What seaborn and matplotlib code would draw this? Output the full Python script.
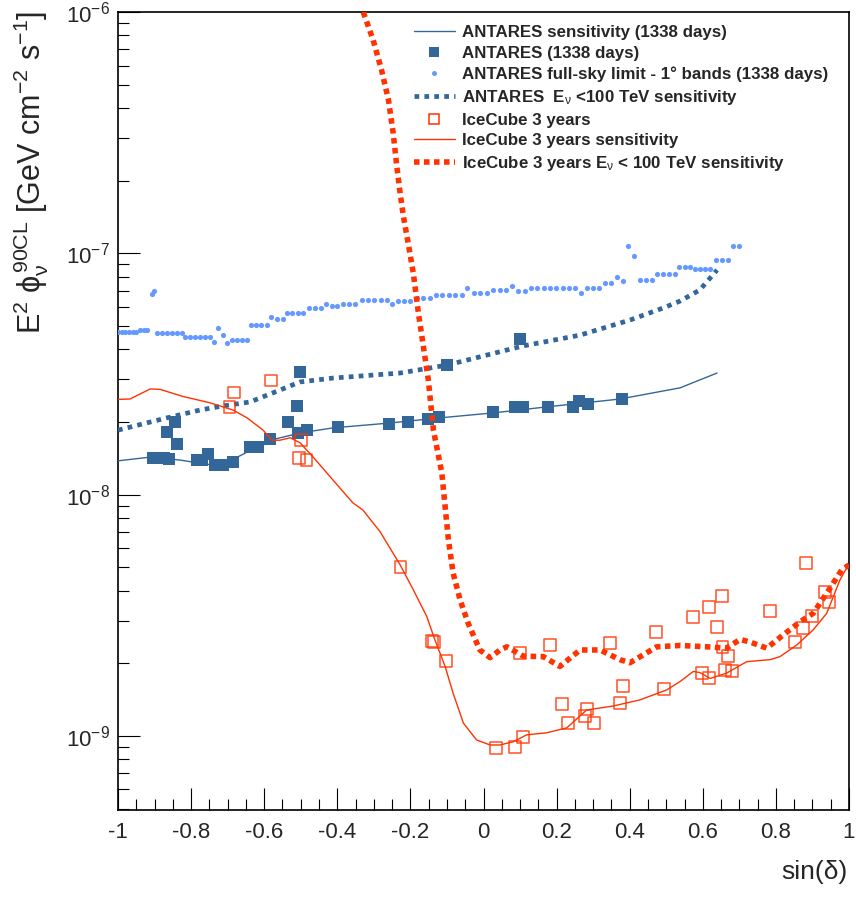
import matplotlib
matplotlib.use("Agg")
import matplotlib.pyplot as plt
import seaborn as sns
import numpy as np
import pandas as pd
from matplotlib.lines import Line2D
from matplotlib.ticker import MultipleLocator, LogLocator, LogFormatterMathtext, NullFormatter, FixedLocator

# ---------------- data ----------------
ant_sens_x = [-1.0, -0.912, -0.830, -0.748, -0.685, -0.584, -0.502, -0.412, -0.256, -0.119, 0.026, 0.174, 0.374, 0.538, 0.639]
ant_sens_y = [1.38e-8, 1.43e-8, 1.39e-8, 1.33e-8, 1.40e-8, 1.68e-8, 1.80e-8, 1.89e-8, 1.98e-8, 2.08e-8, 2.18e-8, 2.31e-8, 2.49e-8, 2.77e-8, 3.19e-8]

ant_pts_x = [-0.905, -0.890, -0.875, -0.860, -0.867, -0.844, -0.839, -0.785, -0.770, -0.753, -0.735, -0.712, -0.685,
             -0.639, -0.617, -0.584, -0.535, -0.510, -0.502, -0.508, -0.483, -0.398, -0.259, -0.207, -0.152, -0.122,
             -0.100, 0.026, 0.086, 0.108, 0.100, 0.176, 0.245, 0.261, 0.286, 0.379]
ant_pts_y = [1.42e-8, 1.42e-8, 1.42e-8, 1.41e-8, 1.82e-8, 2.00e-8, 1.62e-8, 1.39e-8, 1.39e-8, 1.47e-8, 1.33e-8, 1.33e-8, 1.37e-8,
             1.57e-8, 1.57e-8, 1.70e-8, 2.00e-8, 2.33e-8, 3.22e-8, 1.80e-8, 1.85e-8, 1.91e-8, 1.96e-8, 2.00e-8, 2.06e-8, 2.10e-8,
             3.44e-8, 2.20e-8, 2.31e-8, 2.31e-8, 4.41e-8, 2.31e-8, 2.31e-8, 2.44e-8, 2.37e-8, 2.49e-8]

fs_x = [-1.00, -0.99, -0.98, -0.97, -0.96, -0.95, -0.94, -0.93, -0.92, -0.907, -0.902, -0.893, -0.880, -0.866, -0.852,
        -0.839, -0.825, -0.817, -0.803, -0.789, -0.776, -0.762, -0.748, -0.737, -0.726, -0.712, -0.701, -0.689, -0.675,
        -0.662, -0.648, -0.637, -0.622, -0.608, -0.593, -0.582, -0.566, -0.549, -0.538, -0.523, -0.508, -0.493, -0.477,
        -0.461, -0.445, -0.431, -0.415, -0.400, -0.384, -0.367, -0.352, -0.333, -0.316, -0.299, -0.281, -0.265, -0.251,
        -0.235, -0.218, -0.201, -0.183, -0.165, -0.146, -0.130, -0.113, -0.095, -0.078, -0.060, -0.044, -0.026, -0.009,
        0.009, 0.027, 0.044, 0.062, 0.078, 0.095, 0.114, 0.130, 0.147, 0.165, 0.182, 0.199, 0.217, 0.233, 0.250, 0.267,
        0.284, 0.300, 0.316, 0.333, 0.349, 0.366, 0.383, 0.396, 0.413, 0.429, 0.445, 0.462, 0.476, 0.492, 0.508, 0.524,
        0.536, 0.550, 0.565, 0.580, 0.593, 0.607, 0.620, 0.636, 0.653, 0.670, 0.683, 0.699]
fs_y = [4.72e-8, 4.72e-8, 4.72e-8, 4.72e-8, 4.72e-8, 4.72e-8, 4.80e-8, 4.80e-8, 4.80e-8, 6.78e-8, 6.98e-8, 4.66e-8, 4.66e-8, 4.66e-8, 4.66e-8,
        4.66e-8, 4.66e-8, 4.52e-8, 4.52e-8, 4.52e-8, 4.52e-8, 4.52e-8, 4.52e-8, 4.30e-8, 4.88e-8, 4.57e-8, 4.24e-8, 4.37e-8, 4.37e-8,
        4.37e-8, 4.37e-8, 5.06e-8, 5.06e-8, 5.06e-8, 5.06e-8, 5.46e-8, 5.35e-8, 5.35e-8, 5.65e-8, 5.65e-8, 5.65e-8, 5.65e-8, 5.93e-8,
        5.93e-8, 5.93e-8, 6.17e-8, 6.05e-8, 6.05e-8, 6.17e-8, 6.17e-8, 6.17e-8, 6.39e-8, 6.39e-8, 6.39e-8, 6.39e-8, 6.39e-8, 6.17e-8,
        6.34e-8, 6.34e-8, 6.34e-8, 6.51e-8, 6.51e-8, 6.51e-8, 6.72e-8, 6.72e-8, 6.72e-8, 6.72e-8, 6.72e-8, 7.18e-8, 6.85e-8, 6.85e-8,
        6.85e-8, 7.05e-8, 7.05e-8, 7.05e-8, 7.33e-8, 6.97e-8, 6.97e-8, 7.18e-8, 7.18e-8, 7.18e-8, 7.18e-8, 7.18e-8, 7.18e-8, 7.18e-8, 7.18e-8, 6.87e-8,
        7.18e-8, 7.18e-8, 7.18e-8, 7.53e-8, 7.53e-8, 7.98e-8, 7.70e-8, 1.07e-7, 9.70e-8, 7.74e-8, 7.74e-8, 7.74e-8, 8.21e-8, 8.21e-8, 8.21e-8, 8.21e-8,
        8.75e-8, 8.75e-8, 8.75e-8, 8.58e-8, 8.58e-8, 8.58e-8, 8.58e-8, 9.38e-8, 9.38e-8, 9.38e-8, 1.07e-7, 1.07e-7]

ant_low_x = [-1.0, -0.866, -0.776, -0.713, -0.639, -0.576, -0.502, -0.412, -0.228, -0.100, 0.108, 0.264, 0.401, 0.491, 0.538, 0.592, 0.639]
ant_low_y = [1.85e-8, 2.08e-8, 2.24e-8, 2.33e-8, 2.42e-8, 2.64e-8, 2.93e-8, 3.04e-8, 3.19e-8, 3.44e-8, 4.13e-8, 4.58e-8, 5.29e-8, 5.93e-8, 6.34e-8, 7.05e-8, 8.53e-8]

ic_pts_x = [-0.682, -0.582, -0.695, -0.499, -0.505, -0.484, -0.227, -0.140, -0.135, -0.103, 0.100, 0.182, 0.034, 0.086, 0.107,
            0.214, 0.232, 0.278, 0.284, 0.303, 0.346, 0.373, 0.381, 0.472, 0.494, 0.574, 0.617, 0.652, 0.638, 0.597, 0.617,
            0.654, 0.670, 0.661, 0.679, 0.784, 0.852, 0.875, 0.898, 0.934, 0.945, 0.882]
ic_pts_y = [2.65e-8, 2.97e-8, 2.31e-8, 1.68e-8, 1.42e-8, 1.39e-8, 5.02e-9, 2.47e-9, 2.45e-9, 2.04e-9, 2.21e-9, 2.38e-9, 8.91e-10, 9.02e-10, 9.86e-10,
            1.36e-9, 1.13e-9, 1.21e-9, 1.29e-9, 1.13e-9, 2.42e-9, 1.37e-9, 1.61e-9, 2.70e-9, 1.56e-9, 3.12e-9, 3.43e-9, 3.80e-9, 2.82e-9, 1.82e-9, 1.74e-9,
            2.33e-9, 2.14e-9, 1.88e-9, 1.86e-9, 3.30e-9, 2.45e-9, 2.79e-9, 3.15e-9, 3.96e-9, 3.58e-9, 5.19e-9]

ic_sens_x = [-1.0, -0.967, -0.912, -0.885, -0.822, -0.748, -0.685, -0.647, -0.603, -0.579, -0.557, -0.529, -0.502, -0.466,
             -0.412, -0.357, -0.330, -0.283, -0.228, -0.192, -0.155, -0.133, -0.105, -0.083, -0.055, -0.019, 0.018, 0.045,
             0.082, 0.118, 0.173, 0.228, 0.282, 0.355, 0.428, 0.501, 0.538, 0.574, 0.592, 0.620, 0.665, 0.720, 0.784, 0.811,
             0.857, 0.902, 0.939, 0.975, 0.995]
ic_sens_y = [2.48e-8, 2.49e-8, 2.74e-8, 2.73e-8, 2.55e-8, 2.40e-8, 2.24e-8, 2.08e-8, 1.85e-8, 1.68e-8, 1.68e-8, 1.72e-8, 1.64e-8, 1.43e-8,
             1.15e-8, 9.23e-9, 8.63e-9, 7.02e-9, 5.11e-9, 4.03e-9, 3.12e-9, 2.50e-9, 1.94e-9, 1.50e-9, 1.13e-9, 9.62e-10, 9.17e-10, 9.17e-10,
             9.46e-10, 1.01e-9, 1.03e-9, 1.08e-9, 1.28e-9, 1.33e-9, 1.41e-9, 1.55e-9, 1.68e-9, 1.85e-9, 1.83e-9, 1.73e-9, 1.82e-9, 2.03e-9, 2.07e-9, 2.13e-9,
             2.38e-9, 2.75e-9, 3.22e-9, 4.42e-9, 5.01e-9]

ic_low_x = [-0.329, -0.302, -0.279, -0.260, -0.247, -0.237, -0.228, -0.219, -0.206, -0.192, -0.178, -0.151, -0.137, -0.114,
            -0.105, -0.096, -0.083, -0.064, -0.042, -0.010, 0.018, 0.045, 0.064, 0.109, 0.164, 0.209, 0.264, 0.319, 0.373,
            0.401, 0.474, 0.538, 0.611, 0.665, 0.702, 0.729, 0.775, 0.820, 0.866, 0.902, 0.939, 0.980, 1.0]
ic_low_y = [1.0e-6, 7.66e-7, 5.75e-7, 4.32e-7, 3.14e-7, 2.28e-7, 1.77e-7, 1.42e-7, 1.10e-7, 8.26e-8, 5.64e-8, 2.99e-8, 1.85e-8, 1.23e-8,
            8.91e-9, 6.49e-9, 4.72e-9, 3.66e-9, 2.93e-9, 2.27e-9, 2.11e-9, 2.27e-9, 2.34e-9, 2.14e-9, 2.13e-9, 1.94e-9, 2.27e-9, 2.27e-9, 2.07e-9,
            2.01e-9, 2.34e-9, 2.37e-9, 2.34e-9, 2.31e-9, 2.51e-9, 2.45e-9, 2.31e-9, 2.62e-9, 2.97e-9, 3.22e-9, 3.90e-9, 4.87e-9, 5.11e-9]

x_ticks = [-1, -0.8, -0.6, -0.4, -0.2, 0, 0.2, 0.4, 0.6, 0.8, 1]
x_ticklabels = ["-1", "-0.8", "-0.6", "-0.4", "-0.2", "0", "0.2", "0.4", "0.6", "0.8", "1"]
y_ticks = [1e-9, 1e-8, 1e-7, 1e-6]

legend_labels = ["ANTARES sensitivity (1338 days)",
                 "ANTARES (1338 days)",
                 "ANTARES full-sky limit - 1\u00b0 bands (1338 days)",
                 "ANTARES  E$_{\\nu}$ <100 TeV sensitivity",
                 "IceCube 3 years",
                 "IceCube 3 years sensitivity",
                 "IceCube 3 years E$_{\\nu}$ < 100 TeV sensitivity"]

BLUE = "#336699"
LIGHT = "#6699ff"
RED = "#ff3300"

# ---------------- style ----------------
sns.set_style("ticks")
plt.rcParams["font.family"] = ["Liberation Sans", "DejaVu Sans"]
plt.rcParams["mathtext.fontset"] = "custom"
plt.rcParams["mathtext.rm"] = "Liberation Sans"
plt.rcParams["mathtext.it"] = "Liberation Sans"
plt.rcParams["mathtext.sf"] = "Liberation Sans"
plt.rcParams["mathtext.bf"] = "Liberation Sans:bold"
plt.rcParams["axes.unicode_minus"] = False

W, H = 856, 898
fig = plt.figure(figsize=(W / 100, H / 100), dpi=100)
fig.patch.set_facecolor("white")
L, R, T, B = 118, 849, 12, 810
ax = fig.add_axes([L / W, 1 - B / H, (R - L) / W, (B - T) / H])
ax.set_facecolor("white")

# ---------------- plotting ----------------
sns.lineplot(x=ant_sens_x, y=ant_sens_y, ax=ax, color=BLUE, lw=1.0, sort=False, estimator=None, zorder=3)
sns.scatterplot(x=ant_pts_x, y=ant_pts_y, ax=ax, marker="s", s=64, color=BLUE, linewidth=0, zorder=4)
sns.scatterplot(x=fs_x, y=fs_y, ax=ax, marker="o", s=14, color=LIGHT, linewidth=0, zorder=4)
sns.lineplot(x=ant_low_x, y=ant_low_y, ax=ax, color=BLUE, lw=3.4, linestyle=(0, (1.0, 1.1)),
             sort=False, estimator=None, zorder=5)
sns.scatterplot(x=ic_pts_x, y=ic_pts_y, ax=ax, marker="s", s=72, color=RED, facecolor="none",
                edgecolor=RED, linewidth=1.1, alpha=0.85, zorder=5)
sns.lineplot(x=ic_sens_x, y=ic_sens_y, ax=ax, color=RED, lw=1.0, sort=False, estimator=None, zorder=6)
sns.lineplot(x=ic_low_x, y=ic_low_y, ax=ax, color=RED, lw=4.0, linestyle=(0, (1.0, 0.8)),
             sort=False, estimator=None, zorder=7)

# ---------------- axes ----------------
ax.set_yscale("log")
ax.set_xlim(-1, 1)
ax.set_ylim(4.93e-10, 1e-6)

ax.xaxis.set_minor_locator(MultipleLocator(0.05))
ax.set_xticks(x_ticks)
ax.set_xticklabels(x_ticklabels)
ax.yaxis.set_major_locator(FixedLocator(y_ticks))
ax.yaxis.set_minor_locator(LogLocator(base=10, subs=np.arange(2, 10), numticks=20))
ax.yaxis.set_major_formatter(LogFormatterMathtext())
ax.yaxis.set_minor_formatter(NullFormatter())

ax.tick_params(axis="both", which="major", direction="in", length=16, width=0.8, color="black",
               labelsize=16, top=False, right=False)
ax.tick_params(axis="both", which="minor", direction="in", length=8, width=0.8, color="black",
               top=False, right=False)
ax.tick_params(axis="x", which="major", pad=9)
ax.tick_params(axis="y", which="major", pad=6)
for sp in ax.spines.values():
    sp.set_visible(True)
    sp.set_linewidth(1.2)
    sp.set_color("black")

ax.set_ylabel(r"E$^{2}$ $\phi_{\nu}^{90CL}$ [GeV cm$^{-2}$ s$^{-1}$]", fontsize=22, loc="top")
ax.yaxis.set_label_coords((51 - L) / (R - L), 1 + 1 / (B - T))
ax.set_xlabel("sin(\u03b4)", fontsize=19, loc="right")
ax.xaxis.set_label_coords(1 - 1 / (R - L), -(860 - B) / (B - T))

# ---------------- legend ----------------
handles = [
    Line2D([], [], color=BLUE, lw=1.0),
    Line2D([], [], marker="s", ls="none", color=BLUE, ms=7.5, mew=0),
    Line2D([], [], marker="o", ls="none", color=LIGHT, ms=3.6, mew=0),
    Line2D([], [], color=BLUE, lw=3.4, linestyle=(0, (1.0, 1.1))),
    Line2D([], [], marker="s", ls="none", mfc="none", mec=RED, ms=6.5, mew=1.1),
    Line2D([], [], color=RED, lw=1.0),
    Line2D([], [], color=RED, lw=4.0, linestyle=(0, (1.0, 0.8))),
]
leg = ax.legend(handles, legend_labels, loc="upper left", bbox_to_anchor=(414 / W, 1 - 25 / H),
                bbox_transform=fig.transFigure, frameon=False, borderpad=0, borderaxespad=0,
                handlelength=2.4, handletextpad=0.45, labelspacing=0.34,
                prop={"weight": "bold", "size": 12.2})

fig.savefig("out.png", dpi=100, facecolor="white")
